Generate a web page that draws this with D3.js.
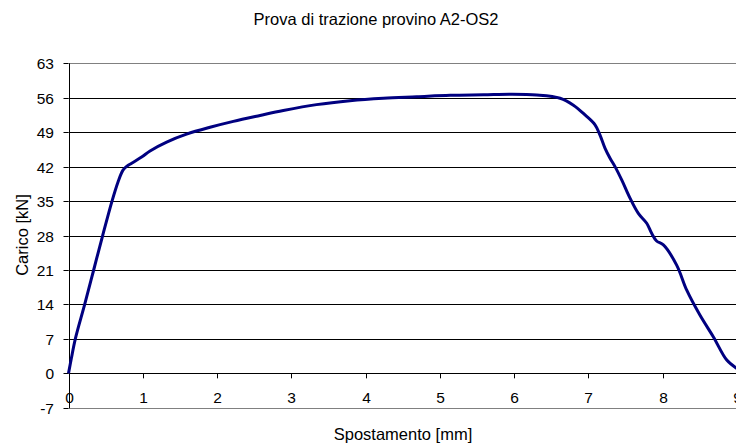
<!DOCTYPE html>
<html><head><meta charset="utf-8">
<script src="https://cdn.jsdelivr.net/npm/d3@7"></script>
<style>body{margin:0;background:#fff}svg{display:block}text{font-family:"Liberation Sans",Arial,sans-serif;fill:#000}</style>
</head><body><svg id="c" width="736" height="447"></svg>
<script>
const title = "Prova di trazione provino A2-OS2";
const xLabel = "Spostamento [mm]";
const yLabel = "Carico [kN]";
const xTicks = [0,1,2,3,4,5,6,7,8,9];
const yTicks = [-7,0,7,14,21,28,35,42,49,56,63];
const displacement = [0,0.038,0.092,0.218,0.339,0.46,0.586,0.667,0.734,0.788,0.851,0.99,1.098,1.322,1.59,1.906,2.22,2.58,2.893,3.34,3.79,4.24,4.69,5.14,5.59,5.95,6.306,6.62,6.8,6.956,7.091,7.158,7.226,7.293,7.36,7.45,7.562,7.674,7.787,7.855,7.92,8.011,8.19,8.326,8.505,8.685,8.865,9.0];
const load = [0,3.0,7.0,14,21,28,35,38.9,41.3,42.1,42.7,44.0,45.2,47.0,48.6,50.0,51.2,52.4,53.4,54.6,55.4,55.9,56.2,56.5,56.6,56.7,56.55,55.9,54.5,52.5,50.5,48.4,45.7,43.7,42.0,39.3,35.6,32.5,30.5,28.4,26.9,26.1,22.0,16.9,11.8,7.4,2.7,1.0];

const svg = d3.select("#c");
const x = d3.scaleLinear().domain([0,9]).range([68.5,736.8]);
const y = d3.scaleLinear().domain([-7,63]).range([407.8,63.3]);

// gridlines
yTicks.forEach(t=>{
  const border = (t===63 || t===-7);
  svg.append("line").attr("x1",x(0)).attr("x2",736).attr("y1",Math.round(y(t))+0.5).attr("y2",Math.round(y(t))+0.5)
    .attr("stroke", border ? "#808080" : "#000").attr("stroke-width",1);
});

// y axis
svg.append("line").attr("x1",Math.round(x(0))+0.5).attr("x2",Math.round(x(0))+0.5).attr("y1",y(63)).attr("y2",y(-7)+0.5).attr("stroke","#000");
yTicks.forEach(t=>{
  const yy = Math.round(y(t))+0.5;
  svg.append("line").attr("x1",x(0)-5).attr("x2",x(0)).attr("y1",yy).attr("y2",yy).attr("stroke","#000");
  svg.append("text").attr("x",54).attr("y",yy).attr("dy","0.35em").attr("text-anchor","end").attr("font-size",15.5).text(t);
});
// x axis ticks at y=0
xTicks.forEach(t=>{
  const xx = Math.round(x(t))+0.5;
  svg.append("line").attr("x1",xx).attr("x2",xx).attr("y1",y(0)).attr("y2",y(0)+5).attr("stroke","#000");
  svg.append("text").attr("x",xx).attr("y",403).attr("text-anchor","middle").attr("font-size",15.5).text(t);
});

// curve
const line = d3.line().x((d,i)=>x(displacement[i])).y(d=>y(d)).curve(d3.curveCatmullRom.alpha(0.5));
svg.append("path").attr("d",line(load)).attr("fill","none").attr("stroke","#000080").attr("stroke-width",3).attr("stroke-linejoin","round");

// titles
svg.append("text").attr("x",376).attr("y",25).attr("text-anchor","middle").attr("font-size",16.5).text(title);
svg.append("text").attr("x",403).attr("y",440).attr("text-anchor","middle").attr("font-size",16.5).text(xLabel);
svg.append("text").attr("transform","translate(28,235) rotate(-90)").attr("text-anchor","middle").attr("font-size",16.5).text(yLabel);
</script></body></html>
